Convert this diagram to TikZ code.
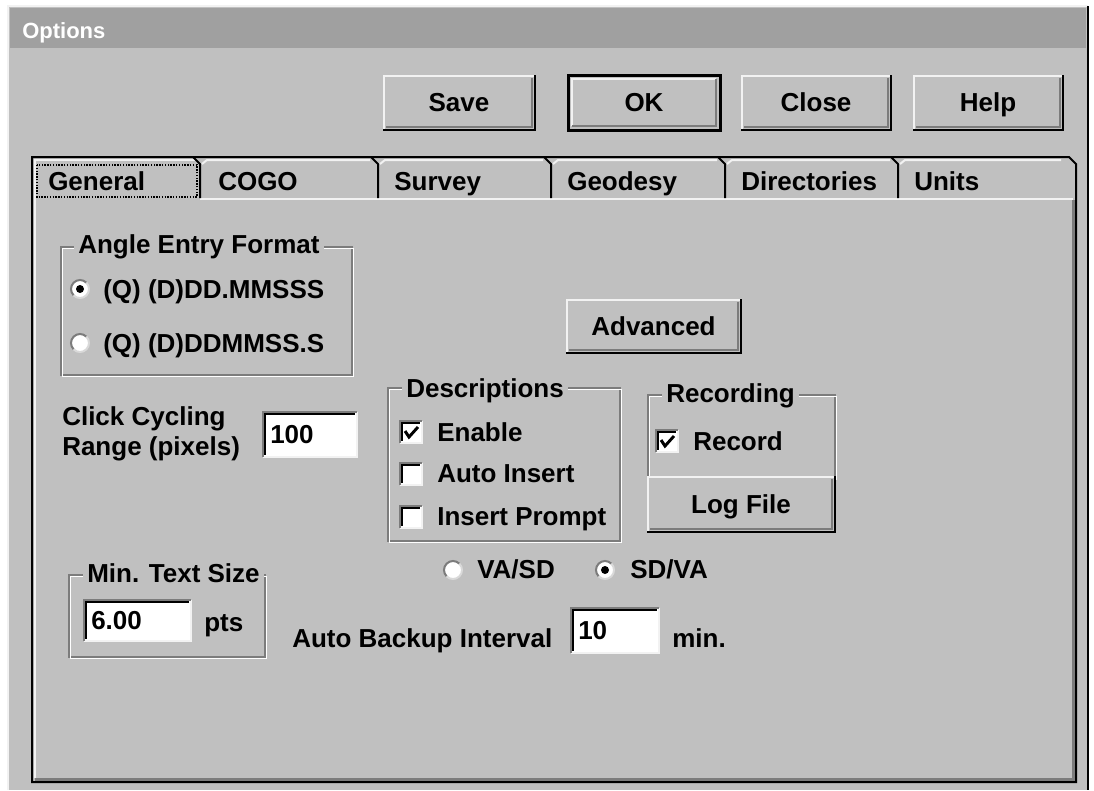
\documentclass[tikz,border=0pt]{standalone}
\usepackage{fontspec}
\setmainfont{Liberation Sans}
\definecolor{face}{HTML}{C0C0C0}
\definecolor{titlebg}{HTML}{A0A0A0}
\definecolor{edgedark}{HTML}{7C7C7C}
\definecolor{lite}{HTML}{F2F2F2}
\newcommand\uifont{\bfseries\fontsize{19.5pt}{23pt}\selectfont}
\tikzset{
  lbl/.style={anchor=base west, inner sep=0pt, font=\uifont, text=black},
  grouptitle/.style={anchor=base west, inner xsep=3pt, inner ysep=2pt, fill=face, font=\uifont},
  px/.style={line width=1.5pt},
}
% raised push button: x1 y1 x2 y2 name label
\newcommand\raisedbtn[6]{%
  \fill[face] (#1,#2) rectangle (#3,#4);
  \draw[lite,px] ({#1+1},{#4-1}) -- ({#1+1},{#2+1}) -- ({#3-1},{#2+1});
  \draw[edgedark,px] ({#1+3},{#4-3}) -- ({#3-3},{#4-3}) -- ({#3-3},{#2+3});
  \draw[black,px] (#1,#4) -- (#3,#4) -- (#3,#2);
  \node[lbl, anchor=base] (#5) at ({(#1+#3)/2},{(#2+#4)/2+9}) {#6};
}
% default push button with heavy frame
\newcommand\defaultbtn[6]{%
  \fill[face] (#1,#2) rectangle (#3,#4);
  \draw[black,line width=2.25pt] (#1,#2) rectangle (#3,#4);
  \draw[lite,px] ({#1+4},{#4-4}) -- ({#1+4},{#2+4}) -- ({#3-4},{#2+4});
  \draw[edgedark,px] ({#1+4},{#4-4}) -- ({#3-4},{#4-4}) -- ({#3-4},{#2+4});
  \node[lbl, anchor=base] (#5) at ({(#1+#3)/2},{(#2+#4)/2+9}) {#6};
}
% sunken edit field: x1 y1 x2 y2 name text
\newcommand\editfield[6]{%
  \fill[white] (#1,#2) rectangle (#3,#4);
  \draw[lite,px] (#1,#4) -- (#3,#4) -- (#3,#2);
  \draw[edgedark,px] (#1,#4) -- (#1,#2) -- (#3,#2);
  \draw[black,px] ({#1+2},{#4-2}) -- ({#1+2},{#2+2}) -- ({#3-2},{#2+2});
  \node[lbl] (#5) at ({#1+7},{(#2+#4)/2+9}) {#6};
}
% etched group frame: x1 y1 x2 y2
\newcommand\groupframe[4]{%
  \draw[edgedark,line width=1pt] (#1,#2) rectangle (#3,#4);
  \draw[white,line width=1pt] ({#1+1.5},{#2+1.5}) rectangle ({#3+1.5},{#4+1.5});
}
% radio button: cx cy selected(1/0)
\newcommand\radio[3]{%
  \fill[white] (#1,#2) circle (9);
  \draw[edgedark,px] (#1,#2) ++(135:9) arc (135:315:9);
  \draw[face!60!white,px] (#1,#2) ++(315:9) arc (-45:135:9);
  \ifnum#3=1 \fill[black] (#1,#2) circle (4);\fi
}
% check box: x y checked(1/0)
\newcommand\checkbox[3]{%
  \fill[white] (#1,#2) rectangle ({#1+22},{#2+22});
  \draw[lite,px] (#1,{#2+22}) -- ({#1+22},{#2+22}) -- ({#1+22},#2);
  \draw[edgedark,px] (#1,{#2+22}) -- (#1,#2) -- ({#1+22},#2);
  \draw[black,px] ({#1+2},{#2+20}) -- ({#1+2},{#2+2}) -- ({#1+20},{#2+2});
  \ifnum#3=1 \draw[black,line width=2.2pt] ({#1+5},{#2+10}) -- ({#1+9},{#2+16}) -- ({#1+18},{#2+6});\fi
}
\begin{document}
\begin{tikzpicture}[x=0.75pt,y=-0.75pt]
\useasboundingbox (0,0) rectangle (1094,790);
\fill[white] (0,0) rectangle (1094,790);

% window body and title bar
\fill[face] (8,6) rectangle (1088,790);
\draw[lite,px] (8,790) -- (8,6) -- (1088,6);
\draw[black,px] (1088,6) -- (1088,790);
\fill[titlebg] (10,8) rectangle (1086,48);
\node[anchor=base west, inner sep=0pt, text=white, font=\bfseries\fontsize{16.5pt}{20pt}\selectfont] (title) at (22,38) {Options};

% command buttons
\raisedbtn{383}{75}{535}{130}{save}{Save}
\defaultbtn{568}{75}{720}{130}{ok}{OK}
\raisedbtn{741}{75}{891}{130}{close}{Close}
\raisedbtn{913}{75}{1063}{130}{help}{Help}

% tab strip and page frame
\draw[black,px] (32,782) -- (32,157) -- (1069,157) -- (1076,164) -- (1076,782) -- cycle;
\draw[edgedark,line width=2.25pt] (35,779) -- (1073,779) -- (1073,200);
\draw[lite,px] (34.5,778) -- (34.5,160) -- (195,160);
\draw[lite,px] (200,199) -- (1073,199);
\foreach \d/\n in {200/378,378/551,551/725,725/898,898/1069}{
  \draw[black,px] ({\d-7},157) -- (\d,164) -- (\d,198);
  \draw[lite,px] ({\d+2},164) -- ({\d+7},160) -- ({\n-8},160);
}
\draw[black,densely dotted,line width=1.1pt] (37,165) rectangle (197,197);
\node[lbl] (tgeneral) at (48,190) {General};
\node[lbl] (tcogo) at (218,190) {COGO};
\node[lbl] (tsurvey) at (394,190) {Survey};
\node[lbl] (tgeodesy) at (567,190) {Geodesy};
\node[lbl] (tdirs) at (741,190) {Directories};
\node[lbl] (tunits) at (914,190) {Units};

% angle entry format group
\groupframe{61}{247}{352}{375}
\node[grouptitle] (gangle) at (74,253) {Angle Entry Format};
\radio{80}{289}{1}
\node[lbl] (ra1) at (103,298) {(Q) (D)DD.MMSSS};
\radio{80}{343}{0}
\node[lbl] (ra2) at (103,352) {(Q) (D)DDMMSS.S};

% click cycling range
\node[lbl] (cc1) at (62,425) {Click Cycling};
\node[lbl] (cc2) at (62,455) {Range (pixels)};
\editfield{263}{412}{357}{457}{ccval}{100}

% advanced button
\raisedbtn{566}{299}{741}{353}{adv}{Advanced}

% descriptions group
\groupframe{388}{388}{620}{541}
\node[grouptitle] (gdesc) at (402,397) {Descriptions};
\checkbox{400}{421}{1}
\node[lbl] (cenable) at (437,441) {Enable};
\checkbox{400}{463}{0}
\node[lbl] (cauto) at (437,482) {Auto Insert};
\checkbox{400}{506}{0}
\node[lbl] (cprompt) at (437,525) {Insert Prompt};

% recording group
\groupframe{648}{395}{835}{478}
\node[grouptitle] (grec) at (662,402) {Recording};
\checkbox{656}{430}{1}
\node[lbl] (crecord) at (693,450) {Record};
\raisedbtn{647}{476}{835}{532}{logfile}{Log File}

% slope order radios
\radio{453}{570}{0}
\node[lbl] (rvasd) at (477,578) {VA/SD};
\radio{605}{570}{1}
\node[lbl] (rsdva) at (630,578) {SD/VA};

% minimum text size group
\groupframe{69}{575}{265}{657}
\node[grouptitle] (gmin) at (83,582) {Min. Text Size};
\editfield{84}{600}{191}{641}{minval}{6.00}
\node[lbl] (pts) at (204,631) {pts};

% auto backup interval
\node[lbl] (backup) at (292,647) {Auto Backup Interval};
\editfield{571}{608}{659}{653}{bkval}{10}
\node[lbl] (bkmin) at (672,647) {min.};
\end{tikzpicture}
\end{document}
